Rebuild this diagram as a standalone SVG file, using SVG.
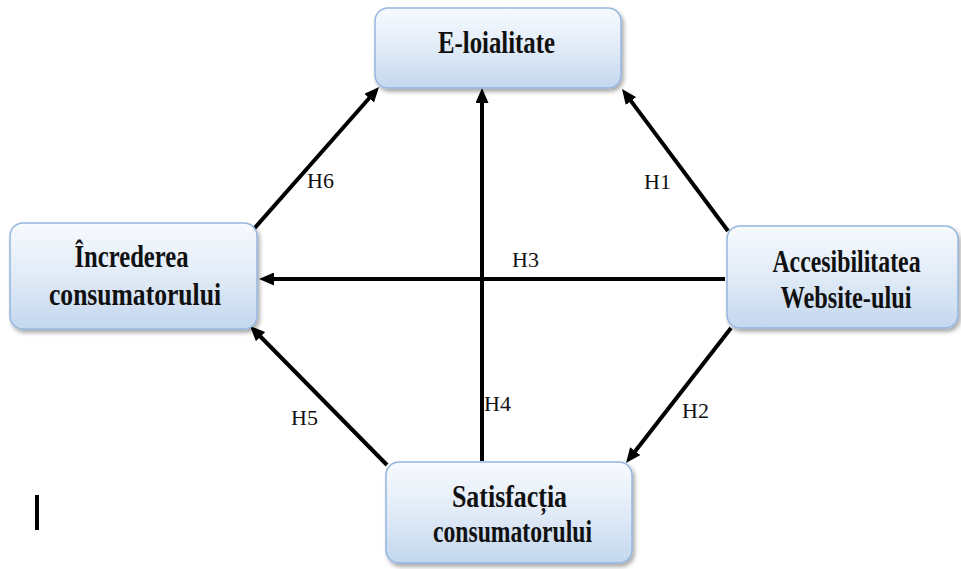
<svg xmlns="http://www.w3.org/2000/svg" width="961" height="569" viewBox="0 0 961 569">
  <defs>
    <linearGradient id="boxFill" x1="0" y1="0" x2="0" y2="1">
      <stop offset="0" stop-color="#f7fafe"/>
      <stop offset="0.5" stop-color="#e1ebf7"/>
      <stop offset="1" stop-color="#c3d7ee"/>
    </linearGradient>
    <filter id="shadow" x="-10%" y="-10%" width="125%" height="130%">
      <feDropShadow dx="2" dy="3" stdDeviation="2" flood-color="#000000" flood-opacity="0.35"/>
    </filter>
    <marker id="head" viewBox="0 0 15 13" markerWidth="15" markerHeight="13" refX="3" refY="6.5" orient="auto" markerUnits="userSpaceOnUse">
      <path d="M0,0 L15,6.5 L0,13 z" fill="#000"/>
    </marker>
  </defs>
  <style>
    .box { fill: url(#boxFill); stroke: #95b7df; stroke-width: 1.5; filter: url(#shadow); }
    .title { font-family: Liberation Serif, Times New Roman, serif; font-weight: bold; font-size: 32px; fill: #111; text-anchor: middle; }
    .lbl { font-family: Liberation Serif, Times New Roman, serif; font-size: 22px; fill: #111; }
    .edge { stroke: #000; stroke-width: 4; fill: none; marker-end: url(#head); }
  </style>

  <rect width="961" height="569" fill="#ffffff"/>

  <!-- connectors -->
  <g id="connectors">
    <line class="edge" x1="253" y1="230" x2="371.1" y2="96"/>
    <line class="edge" x1="728" y1="231" x2="629.2" y2="98.6"/>
    <line class="edge" x1="725" y1="279" x2="271" y2="279"/>
    <line class="edge" x1="482" y1="461" x2="482" y2="100"/>
    <line class="edge" x1="387" y1="465" x2="258.4" y2="334.5"/>
    <line class="edge" x1="731" y1="328" x2="633.4" y2="453.5"/>
    <text class="lbl" x="307" y="188">H6</text>
    <text class="lbl" x="644" y="189">H1</text>
    <text class="lbl" x="512" y="267">H3</text>
    <text class="lbl" x="484" y="411">H4</text>
    <text class="lbl" x="291" y="425">H5</text>
    <text class="lbl" x="682" y="418">H2</text>
  </g>

  <g id="node-eloialitate">
    <rect class="box" x="375" y="8" width="246" height="80" rx="13"/>
    <text class="title" transform="translate(496.5 53) scale(0.775 1)">E-loialitate</text>
  </g>

  <g id="node-increderea">
    <rect class="box" x="10" y="223" width="247" height="106" rx="13"/>
    <text class="title" transform="translate(131.5 267) scale(0.77 1)">Încrederea</text>
    <text class="title" transform="translate(135 305) scale(0.8 1)">consumatorului</text>
  </g>

  <g id="node-accesibilitatea">
    <rect class="box" x="727" y="226" width="231" height="102" rx="13"/>
    <text class="title" transform="translate(846.5 272) scale(0.745 1)">Accesibilitatea</text>
    <text class="title" transform="translate(846 308) scale(0.76 1)">Website-ului</text>
  </g>

  <g id="node-satisfactia">
    <rect class="box" x="386" y="462" width="246" height="101" rx="13"/>
    <text class="title" transform="translate(509.5 507) scale(0.81 1)">Satisfacția</text>
    <text class="title" transform="translate(512.5 542) scale(0.74 1)">consumatorului</text>
  </g>

  <!-- stray bar in lower left corner -->
  <rect x="35" y="495" width="4" height="35" fill="#000"/>
</svg>
